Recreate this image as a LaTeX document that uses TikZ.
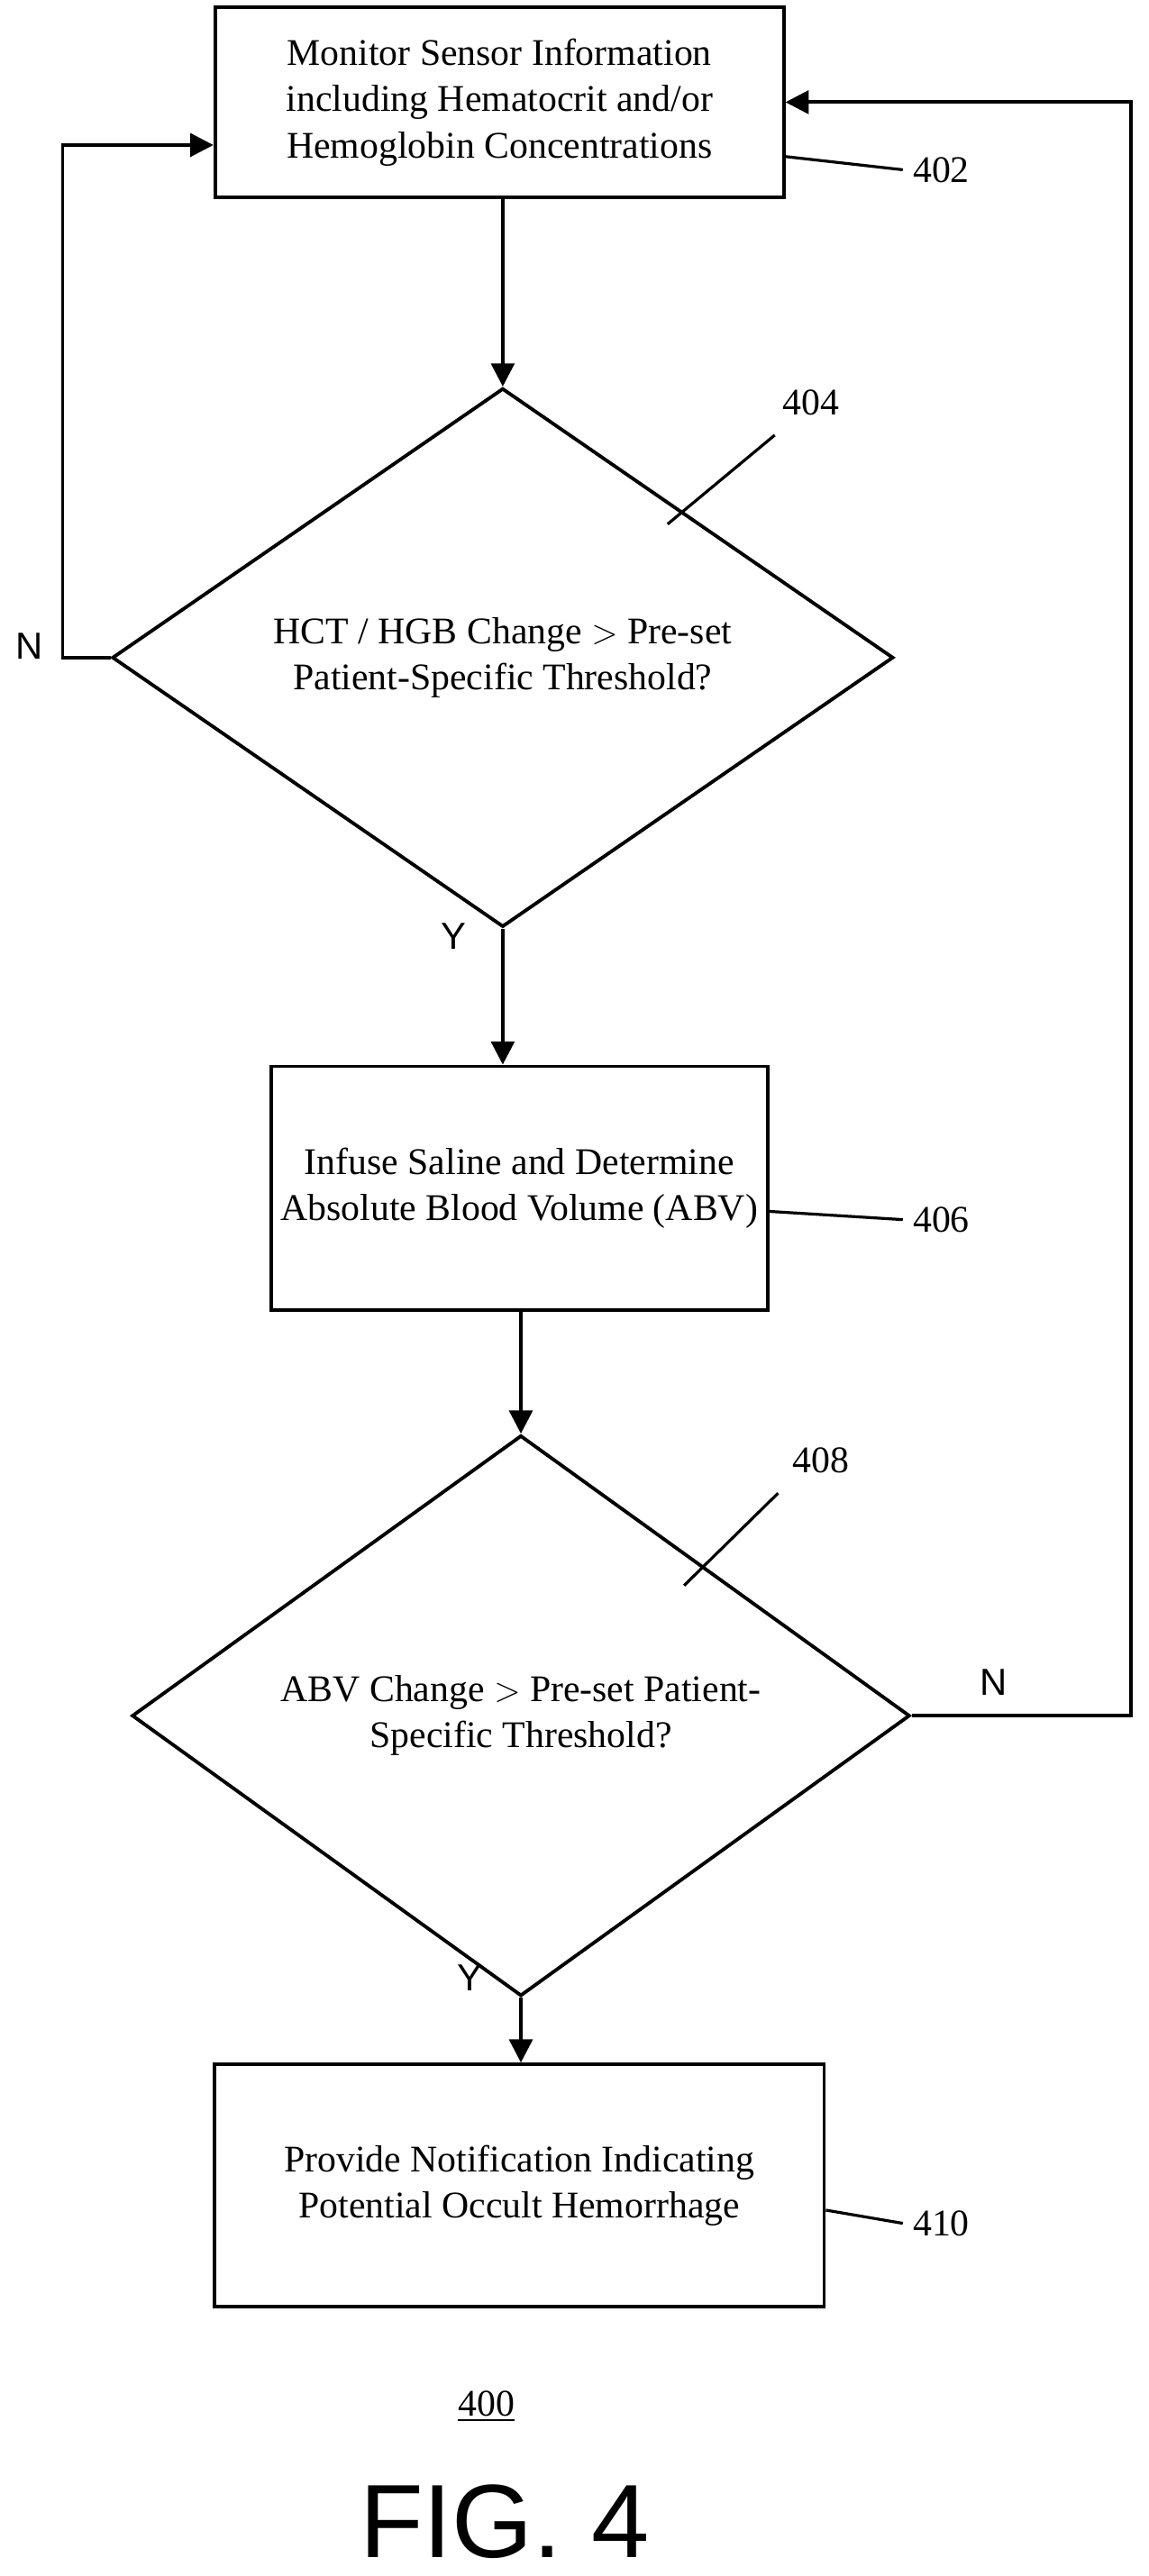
\documentclass[tikz,border=0pt]{standalone}
\usepackage{fontspec}
\setmainfont{Liberation Serif}
\setsansfont{Liberation Sans}
\usetikzlibrary{arrows.meta,shapes.geometric}

\begin{document}
\begin{tikzpicture}[x=0.02cm, y=-0.02cm,
    box/.style={draw, line width=1.2pt, align=center, font=\fontsize{13}{16}\selectfont},
    dia/.style={draw, diamond, line width=1.2pt, align=center, inner sep=0pt, font=\fontsize{13}{16}\selectfont},
    flow/.style={line width=1.2pt, -{Triangle[length=8pt, width=8pt]}},
    lead/.style={line width=1pt},
    yn/.style={font=\sffamily\fontsize{13}{16}\selectfont},
    ref/.style={font=\fontsize{13}{16}\selectfont}]
    \useasboundingbox (0,0) rectangle (697,1563);

    % steps
    \node[box, minimum width=6.9cm, minimum height=2.3cm] (monitor) at (303,62)
        {Monitor Sensor Information\\including Hematocrit and/or\\Hemoglobin Concentrations};
    \node[dia, minimum width=9.48cm, minimum height=5.56cm] (hct) at (305,399)
        {HCT / HGB Change $>$ Pre-set\\Patient-Specific Threshold?};
    \node[box, minimum width=5.12cm, minimum height=2.96cm] (infuse) at (315,721)
        {Infuse Saline and Determine\\Absolute Blood Volume (ABV)};
    \node[dia, minimum width=9.44cm, minimum height=5.64cm] (abv) at (316,1041)
        {ABV Change $>$ Pre-set Patient-\\Specific Threshold?};
    \node[box, minimum width=7.4cm, minimum height=2.94cm] (notify) at (315,1326)
        {Provide Notification Indicating\\Potential Occult Hemorrhage};

    % connectors
    \draw[flow] (monitor.south -| hct.north) -- (hct.north);
    \draw[flow] (hct.south) -- (hct.south |- infuse.north);
    \draw[flow] (infuse.south -| abv.north) -- (abv.north);
    \draw[flow] (abv.south) -- (abv.south |- notify.north);
    \coordinate (lbot) at (38,399);
    \coordinate (ltop) at (38,88);
    \draw[flow] (hct.west) -- (lbot) -- (ltop) -- (ltop -| monitor.west);
    \coordinate (rbot) at (686,1041);
    \coordinate (rtop) at (686,62);
    \draw[flow] (abv.east) -- (rbot) -- (rtop) -- (monitor.east);

    \node[yn] (n1) at (18,392) {N};
    \node[yn] (y1) at (275,568) {Y};
    \node[yn] (n2) at (603,1021) {N};
    \node[yn] (y2) at (285,1200) {Y};

    % reference numerals
    \node[ref] (r402) at (571,103) {402};
    \draw[lead] (monitor.east |- 0,95) -- (r402.west);
    \node[ref] (r404) at (492,244) {404};
    \coordinate (c404) at (405,318);
    \draw[lead] (c404) -- (470,264);
    \node[ref] (r406) at (571,740) {406};
    \draw[lead] (infuse.east |- 0,735) -- (r406.west);
    \node[ref] (r408) at (498,886) {408};
    \coordinate (c408) at (415,962);
    \draw[lead] (c408) -- (472,906);
    \node[ref] (r410) at (571,1349) {410};
    \draw[lead] (notify.east |- 0,1341) -- (r410.west);

    \node[ref] (fig) at (295,1460) {\underline{400}};
    \node[font=\sffamily\fontsize{36}{40}\selectfont] (title) at (306,1530) {FIG. 4};
\end{tikzpicture}
\end{document}
